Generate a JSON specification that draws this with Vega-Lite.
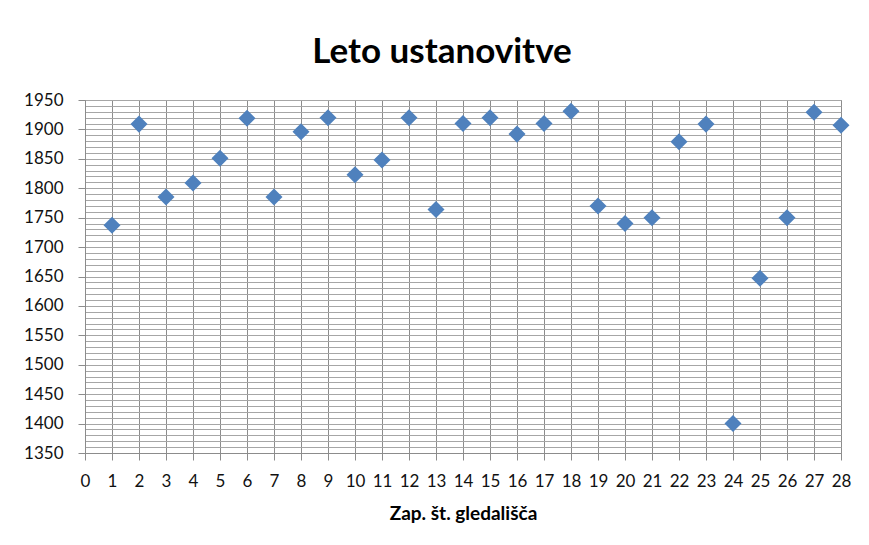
{
  "$schema": "https://vega.github.io/schema/vega-lite/v6.json",
  "width": 756,
  "height": 353,
  "autosize": "none",
  "padding": {"left": 85, "top": 100, "right": 28, "bottom": 92},
  "background": "white",
  "title": {
    "text": "Leto ustanovitve",
    "font": "Lato",
    "fontSize": 35,
    "fontWeight": "bold",
    "color": "#000000",
    "anchor": "middle",
    "frame": "group",
    "dx": -21,
    "offset": 21
  },
  "data": {
    "values": [
      {"st": 1, "leto": 1737},
      {"st": 2, "leto": 1909},
      {"st": 3, "leto": 1785},
      {"st": 4, "leto": 1809},
      {"st": 5, "leto": 1851},
      {"st": 6, "leto": 1919},
      {"st": 7, "leto": 1785},
      {"st": 8, "leto": 1896},
      {"st": 9, "leto": 1920},
      {"st": 10, "leto": 1823},
      {"st": 11, "leto": 1848},
      {"st": 12, "leto": 1920},
      {"st": 13, "leto": 1764},
      {"st": 14, "leto": 1910},
      {"st": 15, "leto": 1920},
      {"st": 16, "leto": 1892},
      {"st": 17, "leto": 1910},
      {"st": 18, "leto": 1931},
      {"st": 19, "leto": 1770},
      {"st": 20, "leto": 1740},
      {"st": 21, "leto": 1750},
      {"st": 22, "leto": 1879},
      {"st": 23, "leto": 1909},
      {"st": 24, "leto": 1400},
      {"st": 25, "leto": 1647},
      {"st": 26, "leto": 1750},
      {"st": 27, "leto": 1929},
      {"st": 28, "leto": 1907}
    ]
  },
  "mark": {"type": "point", "shape": "diamond", "filled": true, "size": 290, "color": "#4F81BD", "opacity": 1, "clip": false},
  "encoding": {
    "x": {
      "field": "st",
      "type": "quantitative",
      "scale": {"domain": [0, 28], "nice": false, "zero": false},
      "axis": {
        "title": "Zap. št. gledališča",
        "values": [0,1,2,3,4,5,6,7,8,9,10,11,12,13,14,15,16,17,18,19,20,21,22,23,24,25,26,27,28],
        "format": "d",
        "grid": true,
        "gridColor": "#8c8c8c",
        "gridWidth": 1,
        "domainColor": "#8c8c8c",
        "tickColor": "#8c8c8c",
        "tickSize": 7,
        "labelFont": "Lato",
        "labelFontSize": 17,
        "labelColor": "#111111",
        "labelPadding": 13,
        "labelFlush": false,
        "labelOverlap": false,
        "titleFont": "Lato",
        "titleFontSize": 19,
        "titleFontWeight": "bold",
        "titleColor": "#000000",
        "titlePadding": 15
      }
    },
    "y": {
      "field": "leto",
      "type": "quantitative",
      "scale": {"domain": [1350, 1950], "nice": false, "zero": false},
      "axis": {
        "title": null,
        "values": [1350,1360,1370,1380,1390,1400,1410,1420,1430,1440,1450,1460,1470,1480,1490,1500,1510,1520,1530,1540,1550,1560,1570,1580,1590,1600,1610,1620,1630,1640,1650,1660,1670,1680,1690,1700,1710,1720,1730,1740,1750,1760,1770,1780,1790,1800,1810,1820,1830,1840,1850,1860,1870,1880,1890,1900,1910,1920,1930,1940,1950],
        "format": "d",
        "labelExpr": "datum.value % 50 === 0 ? datum.label : ''",
        "grid": true,
        "gridColor": "#a6a6a6",
        "gridWidth": 1,
        "domainColor": "#8c8c8c",
        "tickColor": {"condition": {"test": "datum.value % 50 !== 0", "value": "transparent"}, "value": "#8c8c8c"},
        "tickSize": 7,
        "labelFont": "Lato",
        "labelFontSize": 17,
        "labelColor": "#111111",
        "labelPadding": 15,
        "labelFlush": false,
        "labelOverlap": false
      }
    }
  },
  "config": {
    "view": {"stroke": "#8c8c8c"}
  }
}
